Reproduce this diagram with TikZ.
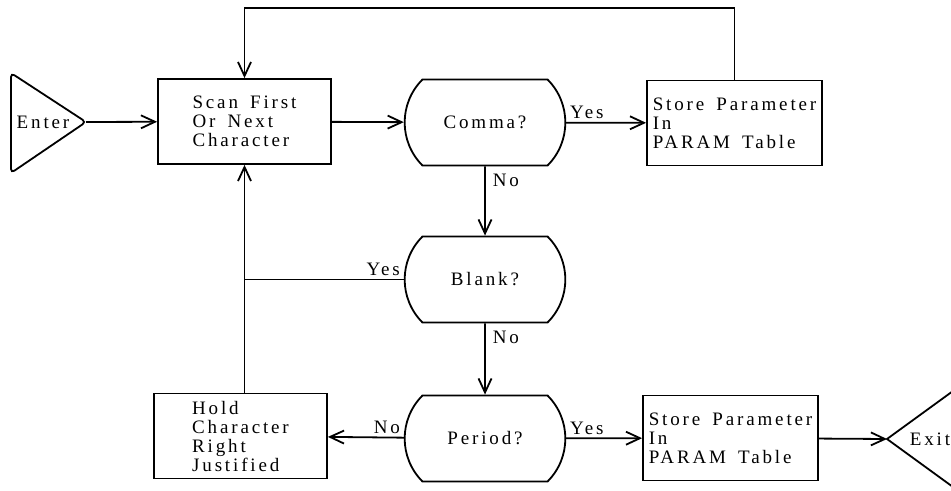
\documentclass[tikz,border=0pt]{standalone}
\usepackage{fontspec}
\setmainfont{Liberation Serif}[LetterSpace=15, WordSpace=1.6]
\usetikzlibrary{arrows.meta,shapes.misc}

\tikzset{
  txt/.style={font=\fontsize{9.5}{9.5}\selectfont},
  procbox/.style={draw, line width=0.9pt, txt, align=left,
    minimum width=86.5pt, minimum height=42.5pt, inner sep=2pt},
  storebox/.style={procbox, minimum width=87.5pt, inner xsep=1pt},
  decision/.style={draw, line width=0.9pt, txt, rounded rectangle,
    rounded rectangle arc length=90, minimum width=87pt, minimum height=43pt},
  flow/.style={line width=0.9pt, -{Straight Barb[length=7pt,width=6.5pt,line width=0.9pt]}},
  plain/.style={line width=0.9pt},
  lbl/.style={txt, inner sep=1.5pt},
}

\begin{document}
\begin{tikzpicture}[x=0.5pt, y=-0.5pt]
  \useasboundingbox (0,0) rectangle (951,491);
  \clip (0,0) rectangle (951,491);

  % terminals
  \draw[plain, rounded corners=2pt] (11,73) -- (86,122) -- (11,173) -- cycle;
  \coordinate (entertip) at (86,122);
  \node[txt] (enter) at (43,122) {Enter};

  \coordinate (exittip) at (887,439);
  \draw[plain] (975,375) -- (exittip) -- (975,503);
  \node[txt] (exit) at (930,439) {Exit};

  % process boxes
  \node[procbox] (scan) at (244.5,121.5) {Scan First\\Or Next\\Character};
  \node[storebox] (store1) at (734.5,123) {Store Parameter\\In\\PARAM Table};
  \node[procbox] (hold) at (240.5,436) {Hold\\Character\\Right\\Justified};
  \node[storebox] (store2) at (730.5,438) {Store Parameter\\In\\PARAM Table};

  % decisions
  \node[decision] (comma) at (485,122.5) {Comma?};
  \node[decision] (blank) at (485,279.5) {Blank?};
  \node[decision] (period) at (485,438.5) {Period?};

  % main flow
  \draw[flow] (entertip) -- (scan);
  \draw[flow] (scan) -- (comma);
  \draw[flow] (comma) -- node[lbl, pos=0, anchor=south west] {Yes} (store1);
  \draw[flow] (comma) -- node[lbl, pos=0, anchor=north west, xshift=2pt, yshift=-2pt] {No} (blank);
  \draw[flow] (blank) -- node[lbl, pos=0, anchor=north west, xshift=2pt, yshift=-2pt] {No} (period);
  \draw[flow] (period) -- node[lbl, pos=0, anchor=south west] {Yes} (store2);
  \draw[flow] (period) -- node[lbl, pos=0, anchor=south east] {No} (hold);
  \draw[flow] (store2) -- (exittip);

  % loops back to the scan step
  \coordinate (topright) at (store1.north |- 0,8);
  \draw[flow] (store1.north) -- (topright) -- (topright -| scan.north) -- (scan.north);
  \coordinate (join) at (scan.south |- blank.west);
  \draw[plain] (blank.west) -- node[lbl, pos=0, anchor=south east] {Yes} (join);
  \draw[flow] (hold.north -| scan.south) -- (scan.south);
\end{tikzpicture}
\end{document}
